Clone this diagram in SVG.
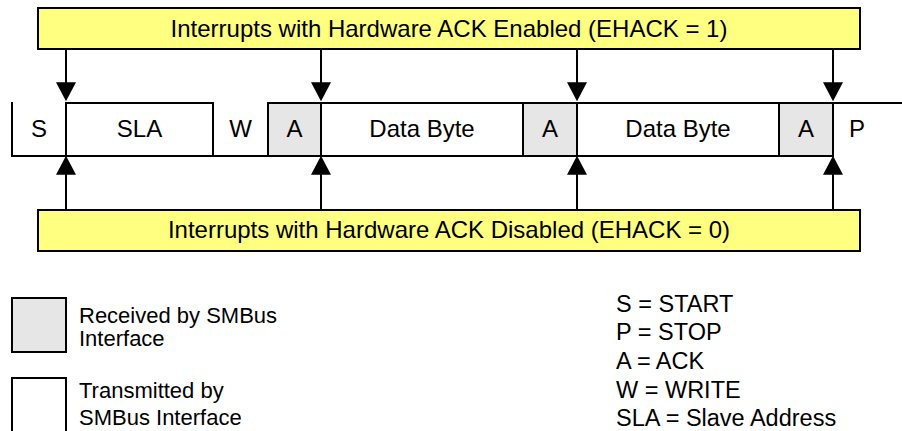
<svg xmlns="http://www.w3.org/2000/svg" width="902" height="431" viewBox="0 0 902 431">
<defs>
<style>
.ln{stroke:#000;stroke-width:2;fill:none;stroke-linecap:square}
.banner{fill:#ffff80;stroke:#000;stroke-width:2}
.rx{fill:#e6e6e6;stroke:none}
.t{font-family:"Liberation Sans",Arial,Helvetica,sans-serif;fill:#000}
.big{font-size:24px;text-anchor:middle}
.lg{font-size:22px}
.lr{font-size:23.5px}
.conn{stroke:#000;stroke-width:2;fill:none}
</style>
<marker id="ah" markerUnits="userSpaceOnUse" markerWidth="20" markerHeight="20" viewBox="0 0 18 19" refX="14" refY="9.5" orient="auto">
<path d="M0,0 L18,9.5 L0,19 Z" fill="#000"/>
</marker>
</defs>

<g id="banner-enabled">
<rect class="banner" x="38" y="8" width="822" height="41"/>
<text class="t big" x="449" y="37">Interrupts with Hardware ACK Enabled (EHACK = 1)</text>
</g>

<g id="banner-disabled">
<rect class="banner" x="38" y="210" width="822" height="41"/>
<text class="t big" x="449" y="238">Interrupts with Hardware ACK Disabled (EHACK = 0)</text>
</g>

<g id="frame">
<rect class="rx" x="268" y="103" width="53" height="53"/>
<rect class="rx" x="523" y="103" width="54" height="53"/>
<rect class="rx" x="779" y="103" width="54" height="53"/>
<path class="ln" d="M12,103 V156 H833 M66,103 V156 M66,103 H213 V156 M268,103 V156 M268,103 H902 M321,103 V156 M523,103 V156 M577,103 V156 M779,103 V156 M833,103 V156"/>
</g>

<g id="field-S"><text class="t big" x="39" y="137">S</text></g>
<g id="field-SLA"><text class="t big" x="139.5" y="137">SLA</text></g>
<g id="field-W"><text class="t big" x="240.5" y="137">W</text></g>
<g id="field-A1"><text class="t big" x="294.5" y="137">A</text></g>
<g id="field-data1"><text class="t big" x="422" y="137">Data Byte</text></g>
<g id="field-A2"><text class="t big" x="550" y="137">A</text></g>
<g id="field-data2"><text class="t big" x="678" y="137">Data Byte</text></g>
<g id="field-A3"><text class="t big" x="806" y="137">A</text></g>
<g id="field-P"><text class="t" font-size="24" x="849" y="137">P</text></g>

<g id="connectors">
<line class="conn" x1="66" y1="49" x2="66" y2="97" marker-end="url(#ah)"/>
<line class="conn" x1="321" y1="49" x2="321" y2="97" marker-end="url(#ah)"/>
<line class="conn" x1="577" y1="49" x2="577" y2="97" marker-end="url(#ah)"/>
<line class="conn" x1="833" y1="49" x2="833" y2="97" marker-end="url(#ah)"/>
<line class="conn" x1="66" y1="210" x2="66" y2="160" marker-end="url(#ah)"/>
<line class="conn" x1="321" y1="210" x2="321" y2="160" marker-end="url(#ah)"/>
<line class="conn" x1="577" y1="210" x2="577" y2="160" marker-end="url(#ah)"/>
<line class="conn" x1="833" y1="210" x2="833" y2="160" marker-end="url(#ah)"/>
</g>

<g id="legend-received">
<rect x="12" y="298" width="54" height="54" fill="#e6e6e6" stroke="#000" stroke-width="2"/>
<text class="t lg" x="79" y="322.5">Received by SMBus</text>
<text class="t lg" x="79" y="345.5">Interface</text>
</g>

<g id="legend-transmitted">
<rect x="12" y="378" width="54" height="58" fill="#fff" stroke="#000" stroke-width="2"/>
<text class="t lg" x="79" y="398">Transmitted by</text>
<text class="t lg" x="79" y="425">SMBus Interface</text>
</g>

<g id="legend-abbrev">
<text class="t lr" x="616" y="312">S = START</text>
<text class="t lr" x="616" y="340">P = STOP</text>
<text class="t lr" x="616" y="369">A = ACK</text>
<text class="t lr" x="616" y="397.5">W = WRITE</text>
<text class="t lr" x="616" y="426">SLA = Slave Address</text>
</g>
</svg>
